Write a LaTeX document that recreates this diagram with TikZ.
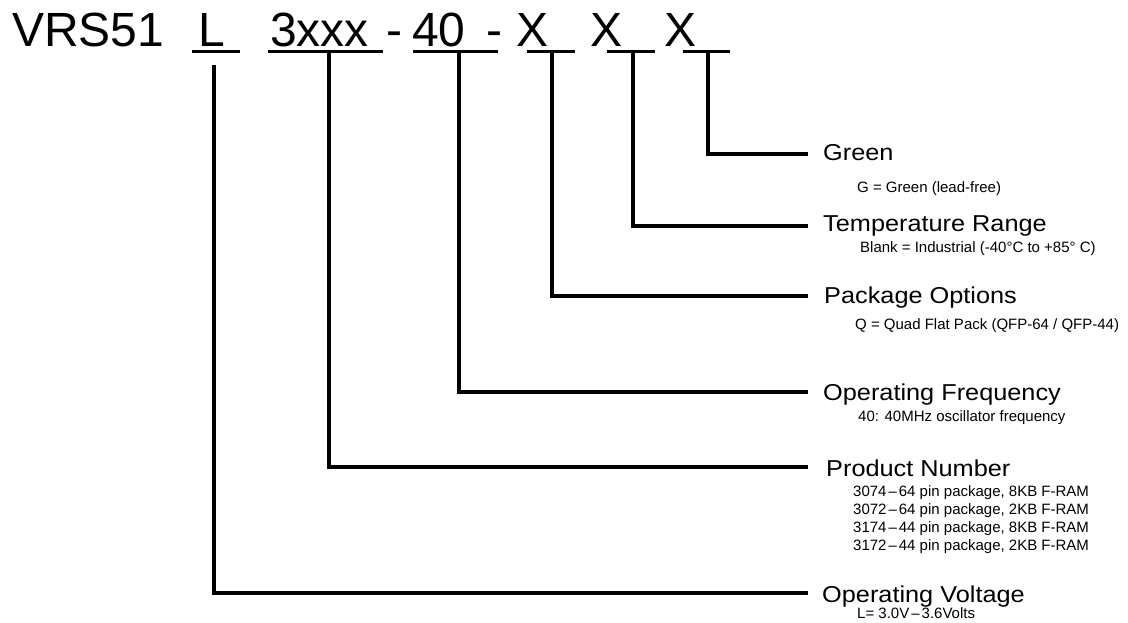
\documentclass[tikz,border=0pt]{standalone}
\usepackage{fontspec}
\setmainfont{Liberation Sans}
\newcommand{\hwide}[1]{\scalebox{1.1}[1]{#1}}
\begin{document}
\begin{tikzpicture}[x=1pt,y=-1pt,
  big/.style={font=\fontsize{48}{48}\selectfont, inner sep=0pt, anchor=base west},
  head/.style={font=\fontsize{23}{23}\selectfont, inner sep=0pt, anchor=base west},
  sub/.style={font=\fontsize{15}{15}\selectfont, inner sep=0pt, anchor=base west},
  uline/.style={line width=3pt},
  conn/.style={line width=4.5pt, line join=miter}]
\useasboundingbox (0,0) rectangle (1128,623);
% part number
\node[big] (title) at (12,47) {VRS51};
\node[big] (sL)  at (198,47) {L};
\node[big] (s3)  at (270,47) {3xxx};
\node[big] (d1)  at (386,47) {-};
\node[big] (s40) at (412,47) {40};
\node[big] (d2)  at (486,47) {-};
\node[big] (x1)  at (516,47) {X};
\node[big] (x2)  at (590,47) {X};
\node[big] (x3)  at (664,47) {X};
% underlines
\draw[uline] (192,52) -- (240,52);
\draw[uline] (268,52) -- (383,52);
\draw[uline] (413,52) -- (498,52);
\draw[uline] (527,52) -- (575,52);
\draw[uline] (607,52) -- (655,52);
\draw[uline] (683,52) -- (730,52);
% connector start points
\coordinate (tL)  at (214,65);
\coordinate (t3)  at (329,52);
\coordinate (t40) at (459,52);
\coordinate (tX1) at (552,52);
\coordinate (tX2) at (633,52);
\coordinate (tX3) at (708,52);
% connector end points
\coordinate (eG) at (808,154);
\coordinate (eT) at (808,226);
\coordinate (eP) at (808,296);
\coordinate (eF) at (808,392);
\coordinate (eN) at (808,467);
\coordinate (eV) at (808,593);
% headings
\node[head] (hG) at (823,161) {\hwide{Green}};
\node[head] (hT) at (823,232) {\hwide{Temperature Range}};
\node[head] (hP) at (824,303) {\hwide{Package Options}};
\node[head] (hF) at (823,400) {\hwide{Operating Frequency}};
\node[head] (hN) at (826,476) {\hwide{Product Number}};
\node[head] (hV) at (822,602) {\hwide{Operating Voltage}};
% details
\node[sub] (dG) at (857,193) {G = Green (lead-free)};
\node[sub] (dT) at (860,252) {Blank = Industrial (-40°C to +85° C)};
\node[sub] (dP) at (855,329) {Q = Quad Flat Pack (QFP-64 / QFP-44)};
\node[sub] (dF) at (858,421) {40: 40MHz oscillator frequency};
\node[sub] (dN1) at (853,496) {3074\kern2pt–\kern2pt64 pin package, 8KB F-RAM};
\node[sub] (dN2) at (853,514) {3072\kern2pt–\kern2pt64 pin package, 2KB F-RAM};
\node[sub] (dN3) at (853,532) {3174\kern2pt–\kern2pt44 pin package, 8KB F-RAM};
\node[sub] (dN4) at (853,550) {3172\kern2pt–\kern2pt44 pin package, 2KB F-RAM};
\node[sub] (dV) at (857,618) {L= 3.0V\kern2pt–\kern2pt3.6Volts};
% connectors
\draw[conn] (tL)  |- (eV);
\draw[conn] (t3)  |- (eN);
\draw[conn] (t40) |- (eF);
\draw[conn] (tX1) |- (eP);
\draw[conn] (tX2) |- (eT);
\draw[conn] (tX3) |- (eG);
\end{tikzpicture}
\end{document}
